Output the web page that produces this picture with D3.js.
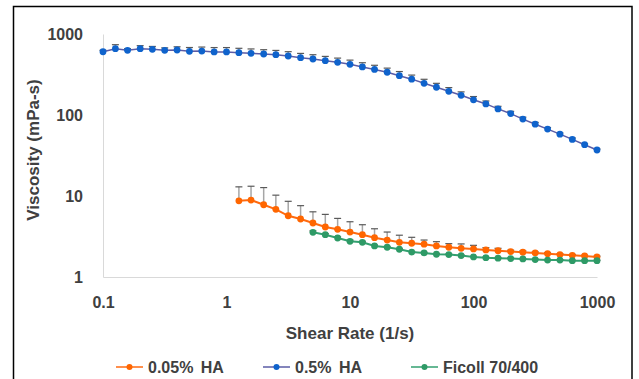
<!DOCTYPE html>
<html>
<head>
<meta charset="utf-8">
<script src="https://cdn.jsdelivr.net/npm/d3@7"></script>
<style>
    body { margin: 0; background: #fff; }
    text { font-family: "Liberation Sans", Arial, sans-serif; font-weight: bold; }
</style>
</head>
<body>
<div id="chart"></div>
<script>
// shear rates (1/s), 10 points per decade
const shearRate = [0.1, 0.126, 0.158, 0.2, 0.251, 0.316, 0.398, 0.501, 0.631, 0.794,
    1, 1.26, 1.58, 2, 2.51, 3.16, 3.98, 5.01, 6.31, 7.94,
    10, 12.6, 15.8, 20, 25.1, 31.6, 39.8, 50.1, 63.1, 79.4,
    100, 126, 158, 200, 251, 316, 398, 501, 631, 794, 1000];

// 0.5% HA - all shear rates
const ha05Visc = [604, 658, 629, 658, 647, 629, 635, 611, 615, 600,
    600, 588, 578, 566, 555, 535, 510, 491, 469, 447,
    422, 392, 365, 337, 306, 277, 246, 220, 196, 175,
    154, 137, 119, 104, 89, 77, 67, 58, 50, 43, 37];
const ha05Err = [25, 80, 30, 60, 55, 45, 60, 70, 75, 80,
    80, 78, 76, 74, 72, 70, 66, 64, 60, 57,
    54, 50, 46, 42, 38, 34, 30, 26, 22, 18,
    15, 12, 9, 7, 5, 4, 3, 2, 2, 1, 1];

// 0.05% HA - starts at 1.26 1/s
const ha005Rate = shearRate.slice(11);
const ha005Visc = [8.73, 8.9, 7.8, 6.84, 5.70, 5.2, 4.64, 4.14, 3.88,
    3.59, 3.33, 3.06, 2.86, 2.68, 2.61, 2.54, 2.42, 2.33, 2.26,
    2.22, 2.16, 2.11, 2.06, 2.02, 1.98, 1.94, 1.89, 1.85, 1.82, 1.77];
const ha005Err = [4.24, 4.3, 4.9, 3.4, 2.9, 2.4, 1.74, 1.79, 1.41,
    1.22, 1.09, 0.88, 0.73, 0.6, 0.48, 0.32, 0.31, 0.25, 0.3,
    0.24, 0.14, 0.15, 0.08, 0.08, 0.06, 0.06, 0.05, 0.05, 0.04, 0.04];

// Ficoll 70/400 - starts at 5.01 1/s
const ficollRate = shearRate.slice(17);
const ficollVisc = [3.56, 3.33, 3.03, 2.76, 2.68, 2.42, 2.33,
    2.20, 2.03, 1.98, 1.91, 1.89, 1.84, 1.77, 1.73, 1.71, 1.69,
    1.67, 1.64, 1.62, 1.62, 1.59, 1.59, 1.59];
const ficollErr = [0.15, 0.1, 0.1, 0.1, 0.08, 0.06, 0.05,
    0.05, 0.04, 0.04, 0.04, 0.03, 0.03, 0.03, 0.03, 0.03, 0.03,
    0.02, 0.02, 0.02, 0.02, 0.02, 0.02, 0.02];

const xTicks = [0.1, 1, 10, 100, 1000];
const yTicks = [1, 10, 100, 1000];

const series = [
    { name: "0.05% HA", x: ha005Rate, y: ha005Visc, err: ha005Err, line: "#ff6a10", dot: "#ff6600" },
    { name: "0.5% HA", x: shearRate, y: ha05Visc, err: ha05Err, line: "#5b5ca6", dot: "#0f63cc" },
    { name: "Ficoll 70/400", x: ficollRate, y: ficollVisc, err: ficollErr, line: "#33a070", dot: "#2e9a66" }
];

const width = 639, height = 379;

const svg = d3.select("#chart")
    .append("svg")
    .attr("width", width)
    .attr("height", height);

svg.append("rect")
    .attr("x", 13.5)
    .attr("y", 6.5)
    .attr("width", 618.5)
    .attr("height", 400)
    .attr("fill", "#fff")
    .attr("stroke", "#000")
    .attr("stroke-width", 1.5);

const x = d3.scaleLog().domain([0.1, 1000]).range([103, 597]);
const y = d3.scaleLog().domain([1, 1000]).range([277, 34]);

// axes
const yAxis = svg.append("g")
    .attr("transform", "translate(103,0)")
    .call(d3.axisLeft(y).tickValues(yTicks).tickSize(0).tickPadding(20).tickFormat(d => d));
yAxis.select(".domain").attr("stroke", "#d9d9d9").attr("stroke-width", 1);

const xAxis = svg.append("g")
    .attr("transform", "translate(0,277)")
    .call(d3.axisBottom(x).tickValues(xTicks).tickSize(0).tickPadding(20).tickFormat(d => d));
xAxis.select(".domain").attr("stroke", "#d9d9d9").attr("stroke-width", 1);

svg.selectAll(".tick text")
    .attr("fill", "#404040")
    .style("font-size", "16px")
    .style("font-family", "'Liberation Sans', Arial, sans-serif")
    .style("font-weight", "bold");

// axis titles
svg.append("text")
    .attr("transform", "translate(39,150) rotate(-90)")
    .attr("text-anchor", "middle")
    .attr("fill", "#404040")
    .style("font-size", "17px")
    .text("Viscosity (mPa-s)");

svg.append("text")
    .attr("x", 350)
    .attr("y", 339)
    .attr("text-anchor", "middle")
    .attr("fill", "#404040")
    .style("font-size", "17px")
    .text("Shear Rate (1/s)");

// series
const plot = svg.append("g");

series.forEach(s => {
    const pts = s.x.map((v, i) => ({ x: v, y: s.y[i], e: s.err[i] }));
    const g = plot.append("g");

    // error bars (up only)
    g.selectAll(".ebar")
        .data(pts)
        .enter().append("line")
        .attr("x1", d => x(d.x))
        .attr("x2", d => x(d.x))
        .attr("y1", d => y(d.y))
        .attr("y2", d => y(d.y + d.e))
        .attr("stroke", "#a6a6a6")
        .attr("stroke-width", 1.5);

    g.selectAll(".ecap")
        .data(pts)
        .enter().append("line")
        .attr("x1", d => x(d.x) - 3.5)
        .attr("x2", d => x(d.x) + 3.5)
        .attr("y1", d => y(d.y + d.e))
        .attr("y2", d => y(d.y + d.e))
        .attr("stroke", "#595959")
        .attr("stroke-width", 1.2);

    g.append("path")
        .datum(pts)
        .attr("fill", "none")
        .attr("stroke", s.line)
        .attr("stroke-width", s.name === "0.5% HA" ? 1.5 : 2)
        .attr("d", d3.line().x(d => x(d.x)).y(d => y(d.y)));

    g.selectAll("circle")
        .data(pts)
        .enter().append("circle")
        .attr("cx", d => x(d.x))
        .attr("cy", d => y(d.y))
        .attr("r", 3.4)
        .attr("fill", s.dot);
});

// legend
const legendX = [116, 263, 411];
const legend = svg.append("g");

series.forEach((s, i) => {
    const lg = legend.append("g").attr("transform", "translate(" + legendX[i] + ",367)");
    lg.append("line")
        .attr("x1", 0).attr("x2", 27)
        .attr("y1", 0).attr("y2", 0)
        .attr("stroke", s.line)
        .attr("stroke-width", 1.5);
    lg.append("circle")
        .attr("cx", 13.5).attr("cy", 0)
        .attr("r", 3)
        .attr("fill", s.dot);
    lg.append("text")
        .attr("x", 32)
        .attr("y", 6)
        .attr("fill", "#404040")
        .style("font-size", "16px")
        .style("word-spacing", i < 2 ? "3px" : "0px")
        .text(s.name);
});
</script>
</body>
</html>
